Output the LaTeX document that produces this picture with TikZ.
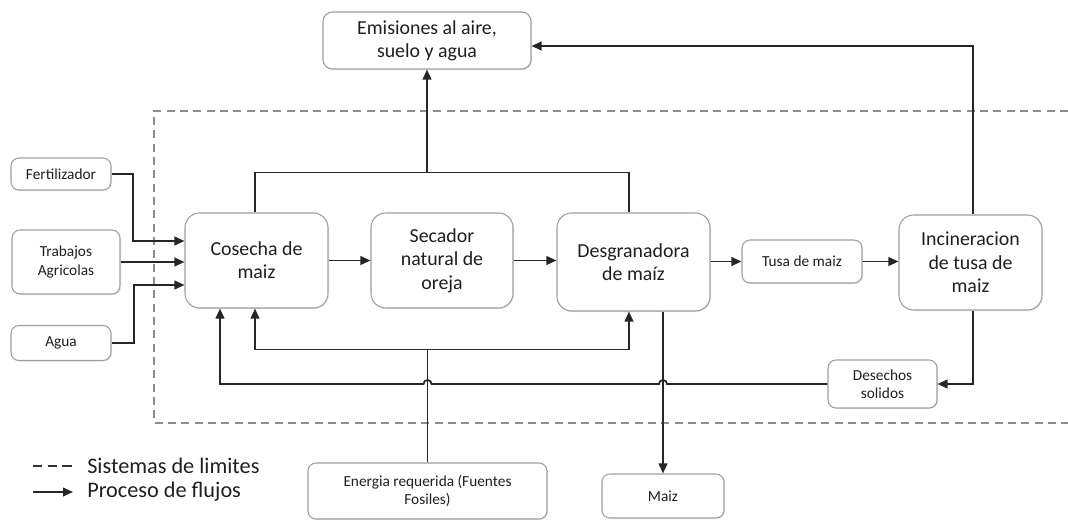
\documentclass[tikz,border=0pt]{standalone}
\usepackage{fontspec}
\setmainfont{Carlito}
\usetikzlibrary{arrows.meta,calc,shadows}
\begin{document}
\begin{tikzpicture}[x=0.75pt,y=-0.75pt,
  basebox/.style={draw=black!38, line width=0.8pt, fill=white, align=center, inner sep=0pt, text=black!88,
    drop shadow={opacity=0.18, shadow xshift=0.8pt, shadow yshift=-0.8pt}},
  bigbox/.style={basebox, rounded corners=11pt, font=\fontsize{14.9}{17.5}\selectfont},
  midbox/.style={basebox, rounded corners=7pt, font=\fontsize{14.9}{17.5}\selectfont},
  smallbox/.style={basebox, rounded corners=6pt, font=\fontsize{11.5}{13.7}\selectfont},
  flow/.style={draw=black!85, line width=1.35pt, -{Triangle[length=7.5pt,width=6.5pt]}},
  plain/.style={draw=black!85, line width=1.35pt},
  boundary/.style={draw=black!45, line width=0.9pt, dash pattern=on 6pt off 4pt},
  legtext/.style={anchor=west, inner sep=0pt, text=black!88, font=\fontsize{16.7}{19}\selectfont},
]
\useasboundingbox (0,0) rectangle (1068,520);

% system boundary
\draw[boundary] (1068,111) -- (154,111) -- (154,423) -- (1068,423);

% nodes
\node[midbox, minimum width=156pt, minimum height=42.75pt] (emi) at (427,40.5) {Emisiones al aire,\\suelo y agua};
\node[smallbox, minimum width=75pt, minimum height=24pt] (fert) at (61,174) {Fertilizador};
\node[smallbox, minimum width=81pt, minimum height=48pt] (trab) at (66,262) {Trabajos\\Agricolas};
\node[smallbox, minimum width=75pt, minimum height=26.25pt] (agua) at (61,343) {Agua};
\node[bigbox, minimum width=107.25pt, minimum height=71.25pt] (cos) at (256.5,260.5) {Cosecha de\\maiz};
\node[bigbox, minimum width=106.5pt, minimum height=71.25pt] (sec) at (442,260.5) {Secador\\natural de\\oreja};
\node[bigbox, minimum width=114.75pt, minimum height=73.5pt] (des) at (633.5,262) {Desgranadora\\de maíz};
\node[smallbox, minimum width=90pt, minimum height=32.25pt] (tusa) at (802,261.5) {Tusa de maiz};
\node[bigbox, minimum width=107.25pt, minimum height=71.25pt] (inc) at (970.5,262.5) {Incineracion\\de tusa de\\maiz};
\node[smallbox, minimum width=81.75pt, minimum height=36pt] (desech) at (882.5,384) {Desechos\\solidos};
\node[smallbox, minimum width=179.25pt, minimum height=42pt] (ener) at (427.5,491) {Energia requerida (Fuentes\\Fosiles)};
\node[smallbox, minimum width=91.5pt, minimum height=33pt] (maiz) at (663,496) {Maiz};

% inputs to cosecha
\draw[flow] (fert.east) -- (133,174) |- ($(cos.west)+(0,-19.5)$);
\draw[flow] (trab.east) -- (cos.west |- trab.east);
\draw[flow] (agua.east) -- (134,343) |- ($(cos.west)+(0,24.5)$);

% main chain
\draw[flow] (cos.east) -- (sec.west);
\draw[flow] (sec.east) -- (des.west |- sec.east);
\draw[flow] (des.east |- tusa.west) -- (tusa.west);
\draw[flow] (tusa.east) -- (inc.west |- tusa.east);

% emissions
\coordinate (tl) at (0,173);
\draw[plain] ($(cos.north)+(-1.5,0)$) -- ++(0,-40) -| ($(des.north)+(-4.5,0)$);
\draw[flow] (emi.south |- tl) -- (emi.south);
\draw[flow] ($(inc.north)+(2.5,0)$) |- ($(emi.east)+(0,5.5)$);

% solid waste
\draw[flow] ($(inc.south)+(2.5,0)$) |- (desech.east);
\draw[flow] (desech.west) -- (667,384) arc[start angle=0,end angle=180,radius=3pt]
  -- (431.5,384) arc[start angle=0,end angle=180,radius=3pt]
  -- (220,384) -- ($(cos.south)+(-36.5,0)$);

% energy
\draw[plain] (ener.north) -- ++(0,-113) coordinate (ej);
\draw[flow] (ej) -| ($(cos.south)+(-1.5,0)$);
\draw[flow] (ej) -| ($(des.south)+(-4.5,0)$);

% product
\draw[flow] (des.south -| maiz.north) -- (maiz.north);

% legend
\coordinate (l1a) at (33,466); \coordinate (l1b) at (73,466);
\coordinate (l2a) at (33,492); \coordinate (l2b) at (73,492);
\draw[draw=black!80, line width=1pt, dash pattern=on 7pt off 4pt] (l1a) -- (l1b);
\node[legtext] (leg1) at (87,466) {Sistemas de limites};
\draw[flow] (l2a) -- (l2b);
\node[legtext] (leg2) at (87,492) {Proceso de flujos};
\end{tikzpicture}
\end{document}
